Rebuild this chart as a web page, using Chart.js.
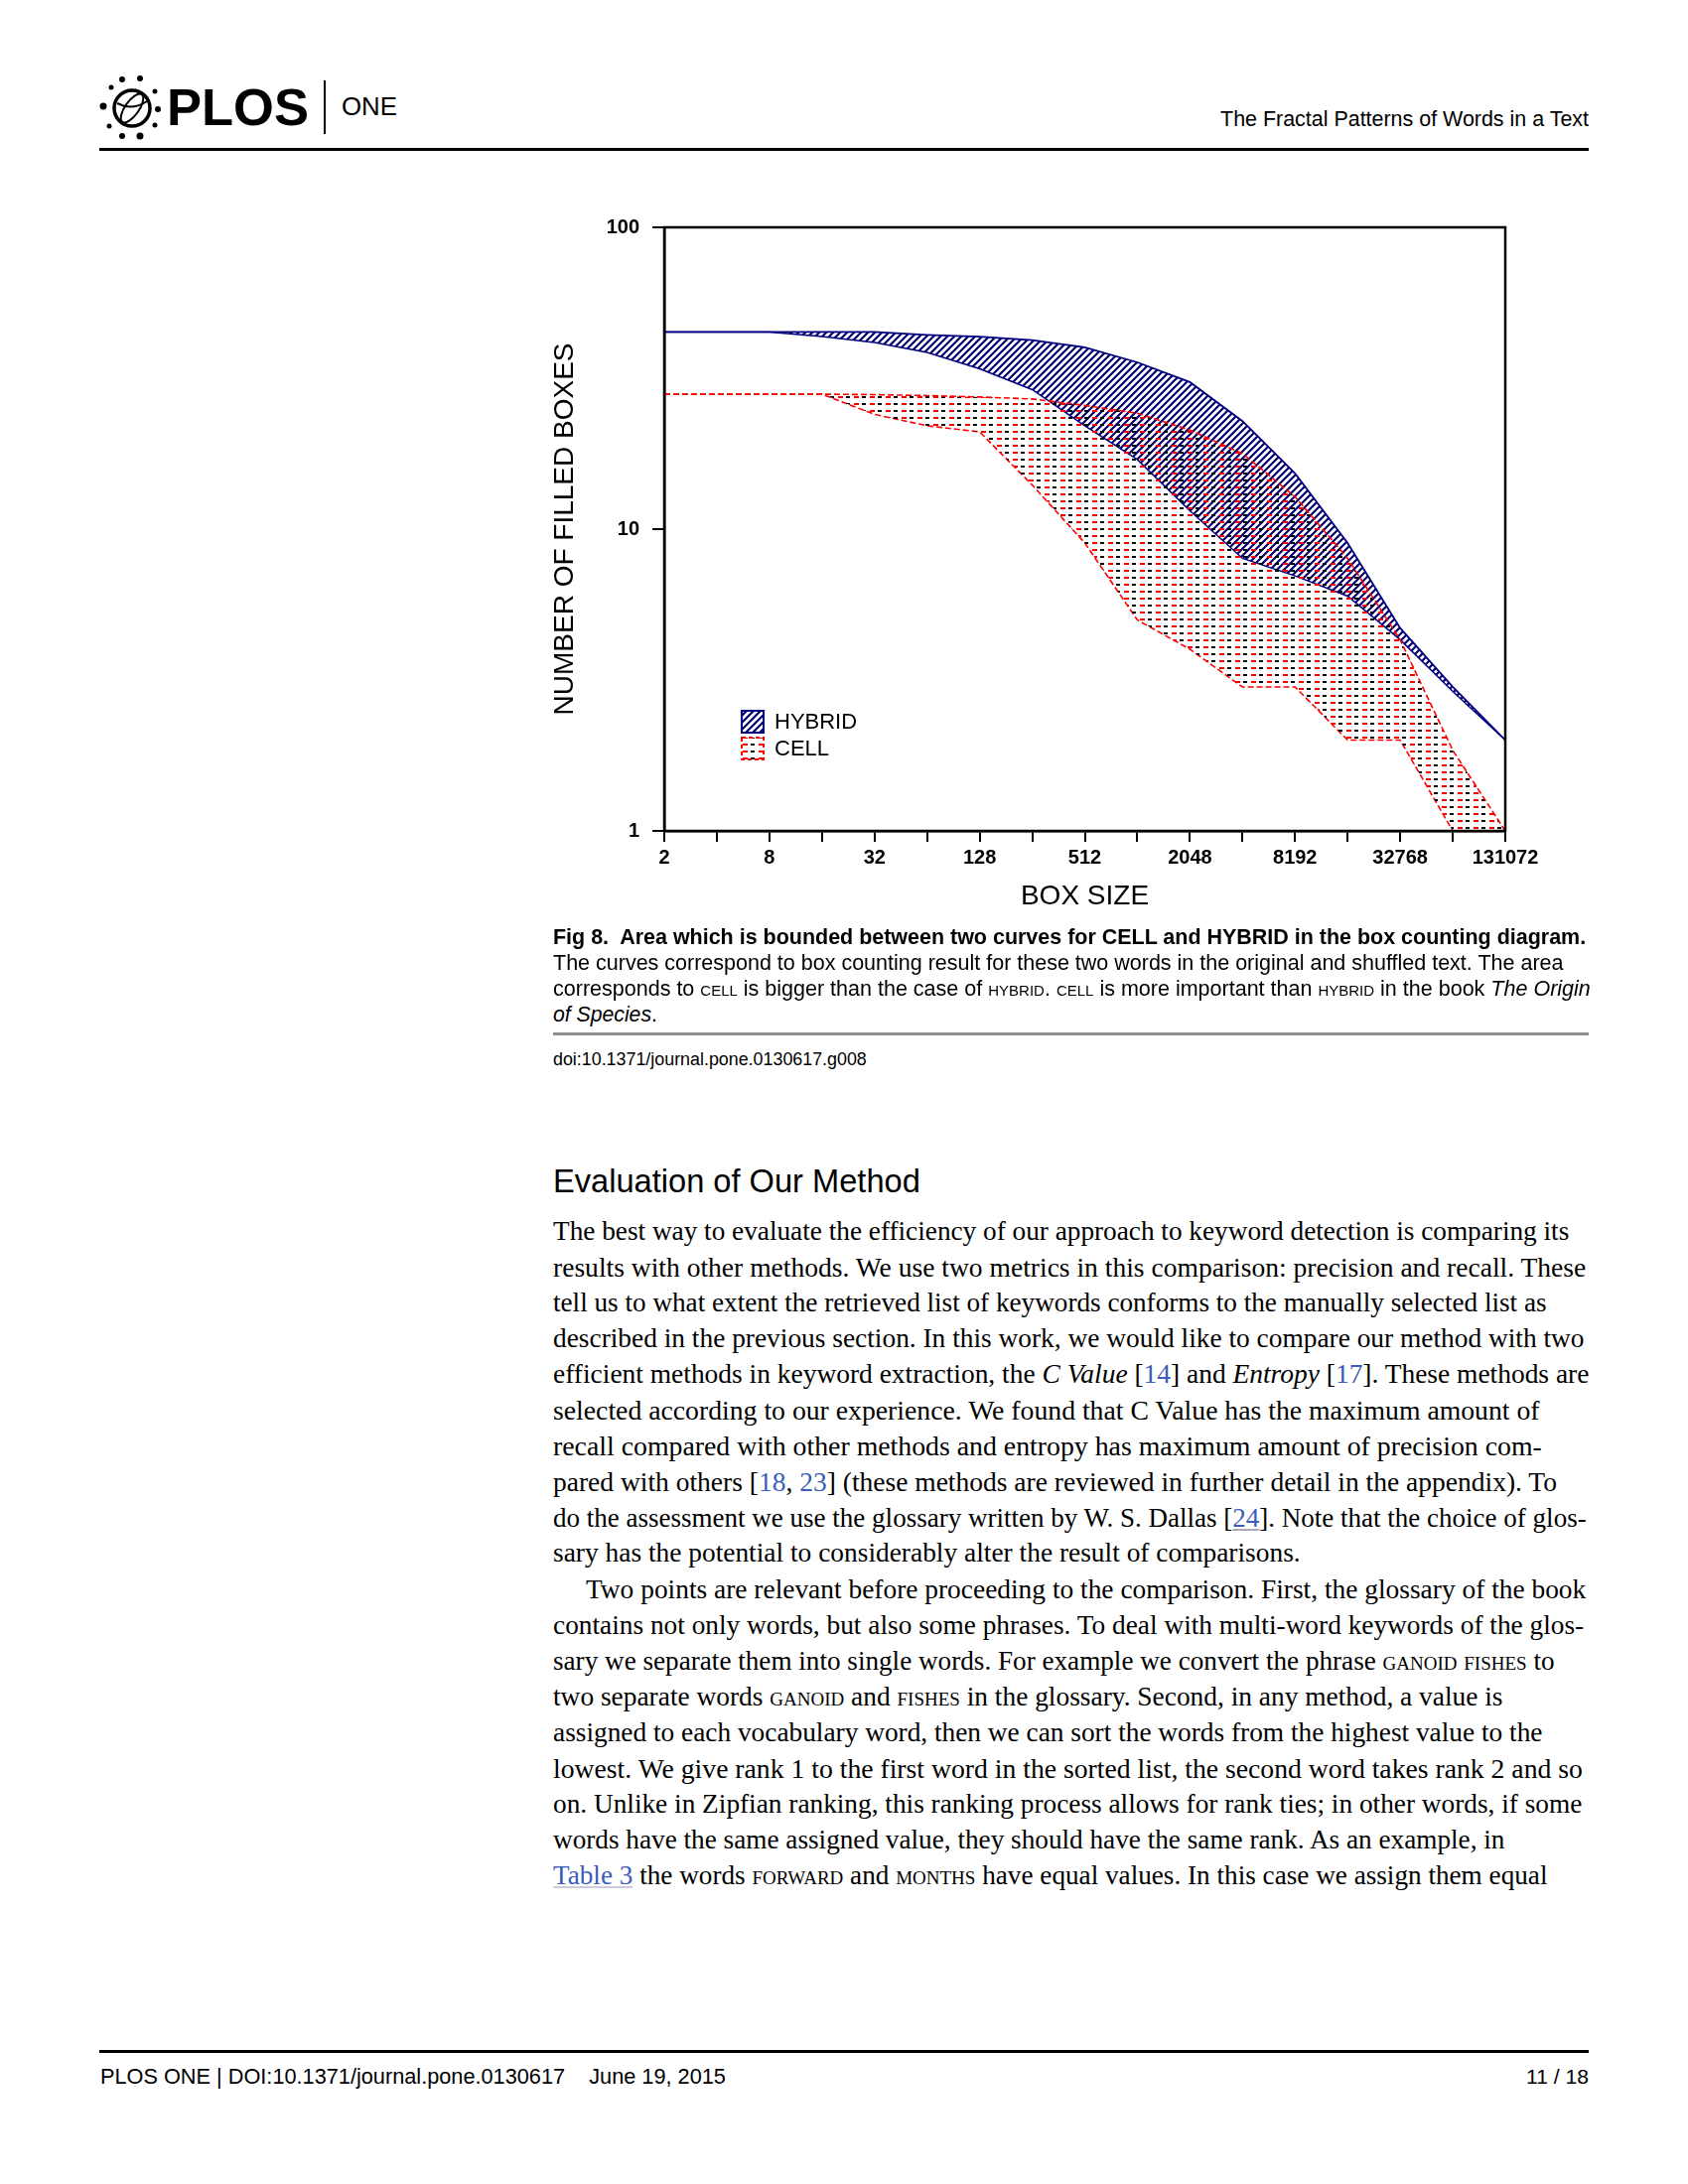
<!DOCTYPE html>
<html><head><meta charset="utf-8">
<script src="https://cdn.jsdelivr.net/npm/chart.js@4.4.1/dist/chart.umd.min.js"></script>
<style>
html,body{margin:0;padding:0;background:#fff;}
body{width:1700px;height:2200px;position:relative;overflow:hidden;font-family:'Liberation Sans',Arial,sans-serif;color:#000;}
.t{position:absolute;white-space:nowrap;line-height:1;}
.sc{font-variant:small-caps;}
.serif{font-family:'Liberation Serif','Times New Roman',serif;}
.lk{color:#3b5cb8;}
.rule{position:absolute;background:#000;}
#chartBox{position:absolute;left:540px;top:200px;width:1080px;height:740px;}
</style></head>
<body>
<!-- header -->
<svg style="position:absolute;left:0;top:0" width="420" height="170">
  <circle cx="133" cy="109" r="18" fill="none" stroke="#000" stroke-width="3.5"/>
  <ellipse cx="133" cy="109" rx="7" ry="17" fill="none" stroke="#000" stroke-width="2" transform="rotate(35 133 109)"/>
  <path d="M118 104 Q133 112 148 102" fill="none" stroke="#000" stroke-width="2"/>
  <circle cx="104" cy="107" r="3.5"/><circle cx="112" cy="88" r="2.5"/><circle cx="123" cy="80" r="3"/>
  <circle cx="141" cy="79" r="3"/><circle cx="156" cy="92" r="2.5"/><circle cx="159" cy="110" r="3"/>
  <circle cx="156" cy="126" r="2.5"/><circle cx="141" cy="137" r="3.5"/><circle cx="123" cy="137" r="3"/>
  <circle cx="110" cy="127" r="2.5"/>
</svg>
<div class="t" style="font-weight:bold" data-x="168" data-cy="108" data-w="143" data-fs="64" data-k="0.49">PLOS</div>
<div class="rule" style="left:326px;top:81px;width:2px;height:54px;"></div>
<div class="t" data-x="344" data-cy="108" data-w="56" data-fs="25" data-k="0.49">ONE</div>
<div class="t" data-r="1600" data-cy="121" data-w="371" data-fs="22" data-k="0.5">The Fractal Patterns of Words in a Text</div>
<div class="rule" style="left:100px;top:149px;width:1500px;height:3px;"></div>

<div id="chartBox"><canvas id="c" width="1080" height="740"></canvas></div>

<!-- caption -->
<div class="t" style="font-weight:bold" data-x="557" data-cy="945" data-w="1041" data-fs="19" data-k="0.5">Fig 8.&nbsp; Area which is bounded between two curves for CELL and HYBRID in the box counting diagram.</div>
<div class="t" data-x="557" data-cy="971" data-w="1018" data-fs="19" data-k="0.5">The curves correspond to box counting result for these two words in the original and shuffled text. The area</div>
<div class="t" data-x="557" data-cy="997" data-w="1042" data-fs="19" data-k="0.5">corresponds to <span class="sc">cell</span> is bigger than the case of <span class="sc">hybrid</span>. <span class="sc">cell</span> is more important than <span class="sc">hybrid</span> in the book <i>The Origin</i></div>
<div class="t" data-x="557" data-cy="1022" data-w="105" data-fs="19" data-k="0.5"><i>of Species</i>.</div>
<div class="rule" style="left:557px;top:1040px;width:1043px;height:3px;background:#8e8e8e;"></div>
<div class="t" data-x="557" data-cy="1068" data-w="316" data-fs="17" data-k="0.5">doi:10.1371/journal.pone.0130617.g008</div>

<!-- section -->
<div class="t" data-x="557" data-cy="1190" data-w="370" data-fs="31" data-k="0.49">Evaluation of Our Method</div>

<div class="t serif" data-x="557" data-cy="1243.5" data-w="1024" data-fs="24" data-k="0.6">The best way to evaluate the efficiency of our approach to keyword detection is comparing its</div>
<div class="t serif" data-x="557" data-cy="1279.55" data-w="1041" data-fs="24" data-k="0.6">results with other methods. We use two metrics in this comparison: precision and recall. These</div>
<div class="t serif" data-x="557" data-cy="1315.6" data-w="1001" data-fs="24" data-k="0.6">tell us to what extent the retrieved list of keywords conforms to the manually selected list as</div>
<div class="t serif" data-x="557" data-cy="1351.65" data-w="1039" data-fs="24" data-k="0.6">described in the previous section. In this work, we would like to compare our method with two</div>
<div class="t serif" data-x="557" data-cy="1387.7" data-w="1044" data-fs="24" data-k="0.6">efficient methods in keyword extraction, the <i>C Value</i> [<span class="lk">14</span>] and <i>Entropy</i> [<span class="lk">17</span>]. These methods are</div>
<div class="t serif" data-x="557" data-cy="1423.75" data-w="994" data-fs="24" data-k="0.6">selected according to our experience. We found that C Value has the maximum amount of</div>
<div class="t serif" data-x="557" data-cy="1459.8" data-w="996" data-fs="24" data-k="0.6">recall compared with other methods and entropy has maximum amount of precision com-</div>
<div class="t serif" data-x="557" data-cy="1495.85" data-w="1011" data-fs="24" data-k="0.6">pared with others [<span class="lk">18</span>, <span class="lk">23</span>] (these methods are reviewed in further detail in the appendix). To</div>
<div class="t serif" data-x="557" data-cy="1531.9" data-w="1041" data-fs="24" data-k="0.6">do the assessment we use the glossary written by W. S. Dallas [<span class="lk" style="text-decoration:underline;text-decoration-color:#aab">24</span>]. Note that the choice of glos-</div>
<div class="t serif" data-x="557" data-cy="1567.95" data-w="753" data-fs="24" data-k="0.6">sary has the potential to considerably alter the result of comparisons.</div>

<div class="t serif" data-x="590" data-cy="1604" data-w="1008" data-fs="24" data-k="0.6">Two points are relevant before proceeding to the comparison. First, the glossary of the book</div>
<div class="t serif" data-x="557" data-cy="1640.05" data-w="1039" data-fs="24" data-k="0.6">contains not only words, but also some phrases. To deal with multi-word keywords of the glos-</div>
<div class="t serif" data-x="557" data-cy="1676.1" data-w="1011" data-fs="24" data-k="0.6">sary we separate them into single words. For example we convert the phrase <span class="sc">ganoid fishes</span> to</div>
<div class="t serif" data-x="557" data-cy="1712.15" data-w="960" data-fs="24" data-k="0.6">two separate words <span class="sc">ganoid</span> and <span class="sc">fishes</span> in the glossary. Second, in any method, a value is</div>
<div class="t serif" data-x="557" data-cy="1748.2" data-w="997" data-fs="24" data-k="0.6">assigned to each vocabulary word, then we can sort the words from the highest value to the</div>
<div class="t serif" data-x="557" data-cy="1784.25" data-w="1037" data-fs="24" data-k="0.6">lowest. We give rank 1 to the first word in the sorted list, the second word takes rank 2 and so</div>
<div class="t serif" data-x="557" data-cy="1820.3" data-w="1037" data-fs="24" data-k="0.6">on. Unlike in Zipfian ranking, this ranking process allows for rank ties; in other words, if some</div>
<div class="t serif" data-x="557" data-cy="1856.35" data-w="959" data-fs="24" data-k="0.6">words have the same assigned value, they should have the same rank. As an example, in</div>
<div class="t serif" data-x="557" data-cy="1892.4" data-w="1004" data-fs="24" data-k="0.6"><span class="lk" style="text-decoration:underline;text-decoration-color:#ccd">Table 3</span> the words <span class="sc">forward</span> and <span class="sc">months</span> have equal values. In this case we assign them equal</div>

<!-- footer -->
<div class="rule" style="left:100px;top:2065px;width:1500px;height:3px;"></div>
<div class="t" data-x="101" data-cy="2092" data-w="630" data-fs="21" data-k="0.5">PLOS ONE | DOI:10.1371/journal.pone.0130617&nbsp;&nbsp;&nbsp; June 19, 2015</div>
<div class="t" data-r="1600" data-cy="2092" data-w="63" data-fs="21" data-k="0.5">11 / 18</div>

<script>
// ---------------- data ----------------
const boxSizes = [2,4,8,16,32,64,128,256,512,1024,2048,4096,8192,16384,32768,65536,131072];
const xTickLabels = ['2','8','32','128','512','2048','8192','32768','131072'];
const yTickValues = [1,10,100];
const hybridShuffled = [45,45,45,45,45,44,43.4,42.3,40,35.7,30.7,22.8,15.3,9,4.7,3,2];
const hybridOriginal = [45,45,45,43.5,41.5,38.5,34,29,22,17,11.5,8,7,6,4.3,2.9,2];
const cellShuffled   = [28,28,28,28,27.9,27.7,27.4,27,25.7,24.2,21.3,17.8,12.8,8,4.3,1.85,1];
const cellOriginal   = [28,28,28,28,24,22,21,14,9,5,4,3,3,2,2,1,1];
const seriesNames = ['HYBRID','CELL'];
const xTitle = 'BOX SIZE';
const yTitle = 'NUMBER OF FILLED BOXES';

// ---------------- text layout ----------------
function layoutText(){
  document.querySelectorAll('.t').forEach(el=>{
    const fs0 = parseFloat(el.dataset.fs);
    el.style.fontSize = fs0+'px';
    let fs = fs0;
    if (el.dataset.w){
      const w = el.getBoundingClientRect().width;
      fs = fs0*parseFloat(el.dataset.w)/w;
      el.style.fontSize = fs+'px';
    }
    const k = parseFloat(el.dataset.k || '0.55');
    el.style.top = (parseFloat(el.dataset.cy) - k*fs)+'px';
    if (el.dataset.r){ el.style.left = (parseFloat(el.dataset.r) - el.getBoundingClientRect().width)+'px'; }
    else el.style.left = el.dataset.x+'px';
  });
}

// ---------------- patterns ----------------
function hatchPattern(){
  const c = document.createElement('canvas'); c.width = 7; c.height = 7;
  const g = c.getContext('2d');
  g.strokeStyle = '#000070'; g.lineWidth = 2.2;
  g.beginPath();
  g.moveTo(-1,8); g.lineTo(8,-1);
  g.moveTo(-4,4); g.lineTo(4,-4);
  g.moveTo(3,11); g.lineTo(11,3);
  g.stroke();
  return g.createPattern(c,'repeat');
}
function dotPattern(){
  const c = document.createElement('canvas'); c.width = 16; c.height = 7;
  const g = c.getContext('2d');
  g.fillStyle = '#ff0000'; g.fillRect(0,3,5,2);
  g.fillStyle = '#000000'; g.fillRect(8,3,4,2);
  return g.createPattern(c,'repeat');
}

function pts(arr){ return boxSizes.map((x,i)=>({x:x, y:arr[i]})); }

const NAVY = '#000080', RED = '#ff0000';

const framePlugin = {
  id:'frame',
  afterDatasetsDraw(chart){
    const {ctx, chartArea:a} = chart;
    ctx.save(); ctx.strokeStyle='#000'; ctx.lineWidth=2.5;
    ctx.strokeRect(a.left, a.top, a.right-a.left, a.bottom-a.top);
    ctx.restore();
  }
};
let HATCH, DOTS;
const legendPlugin = {
  id:'boxLegend',
  afterDraw(chart){
    const {ctx, chartArea:a} = chart;
    const bx = a.left + 78, by = [a.top+487, a.top+514], s = 22;
    ctx.save();
    ctx.fillStyle = HATCH; ctx.fillRect(bx, by[0], s, s);
    ctx.strokeStyle = NAVY; ctx.lineWidth = 2; ctx.strokeRect(bx, by[0], s, s);
    ctx.fillStyle = DOTS; ctx.fillRect(bx, by[1], s, s);
    ctx.strokeStyle = RED; ctx.lineWidth = 2; ctx.setLineDash([4,3]); ctx.strokeRect(bx, by[1], s, s);
    ctx.setLineDash([]);
    ctx.fillStyle = '#000'; ctx.font = '22px "Liberation Sans", Arial, sans-serif';
    ctx.textBaseline = 'middle'; ctx.textAlign = 'left';
    ctx.fillText(seriesNames[0], a.left+111, by[0]+s/2+1);
    ctx.fillText(seriesNames[1], a.left+111, by[1]+s/2+1);
    ctx.restore();
  }
};

function makeChart(){
  HATCH = hatchPattern(); DOTS = dotPattern();
  const tickFont = {family:'Liberation Sans', size:20, weight:'bold'};
  new Chart(document.getElementById('c'), {
    type:'line',
    data:{ datasets:[
      {label:seriesNames[1]+' shuffled', data:pts(cellShuffled), borderColor:RED, borderWidth:1.6, borderDash:[6,3], pointRadius:0, tension:0, fill:'+1', backgroundColor:DOTS},
      {label:seriesNames[1]+' original', data:pts(cellOriginal), borderColor:RED, borderWidth:1.6, borderDash:[6,3], pointRadius:0, tension:0, fill:false},
      {label:seriesNames[0]+' shuffled', data:pts(hybridShuffled), borderColor:NAVY, borderWidth:1.8, pointRadius:0, tension:0, fill:'+1', backgroundColor:HATCH},
      {label:seriesNames[0]+' original', data:pts(hybridOriginal), borderColor:NAVY, borderWidth:1.5, pointRadius:0, tension:0, fill:false}
    ]},
    options:{
      responsive:false, animation:false, events:[], devicePixelRatio:1,
      layout:{padding:{left:0, right:104, top:29, bottom:0}},
      plugins:{legend:{display:false}, tooltip:{enabled:false}},
      scales:{
        x:{
          type:'logarithmic', min:2, max:131072,
          afterBuildTicks: s => { s.ticks = boxSizes.map(v=>({value:v})); },
          afterFit: s => { s.height = 103; },
          ticks:{autoSkip:false, maxRotation:0, minRotation:0, padding:4, color:'#000', font:tickFont,
                 callback:(v)=> xTickLabels.includes(String(v)) ? String(v) : ''},
          grid:{display:true, drawOnChartArea:false, drawTicks:true, tickLength:11, color:'#000', lineWidth:2},
          border:{display:true, color:'#000', width:2.5},
          title:{display:true, text:xTitle, color:'#000', font:{family:'Liberation Sans', size:28}, padding:{top:0, bottom:20}}
        },
        y:{
          type:'logarithmic', min:1, max:100,
          afterBuildTicks: s => { s.ticks = yTickValues.map(v=>({value:v})); },
          afterFit: s => { s.width = 129; },
          ticks:{padding:13, color:'#000', font:tickFont, callback:(v)=> String(v)},
          grid:{display:true, drawOnChartArea:false, drawTicks:true, tickLength:12, color:'#000', lineWidth:2},
          border:{display:true, color:'#000', width:2.5},
          title:{display:true, text:yTitle, color:'#000', font:{family:'Liberation Sans', size:28}, padding:{top:12, bottom:0}}
        }
      }
    },
    plugins:[framePlugin, legendPlugin]
  });
}

layoutText();
makeChart();
</script>
</body></html>
